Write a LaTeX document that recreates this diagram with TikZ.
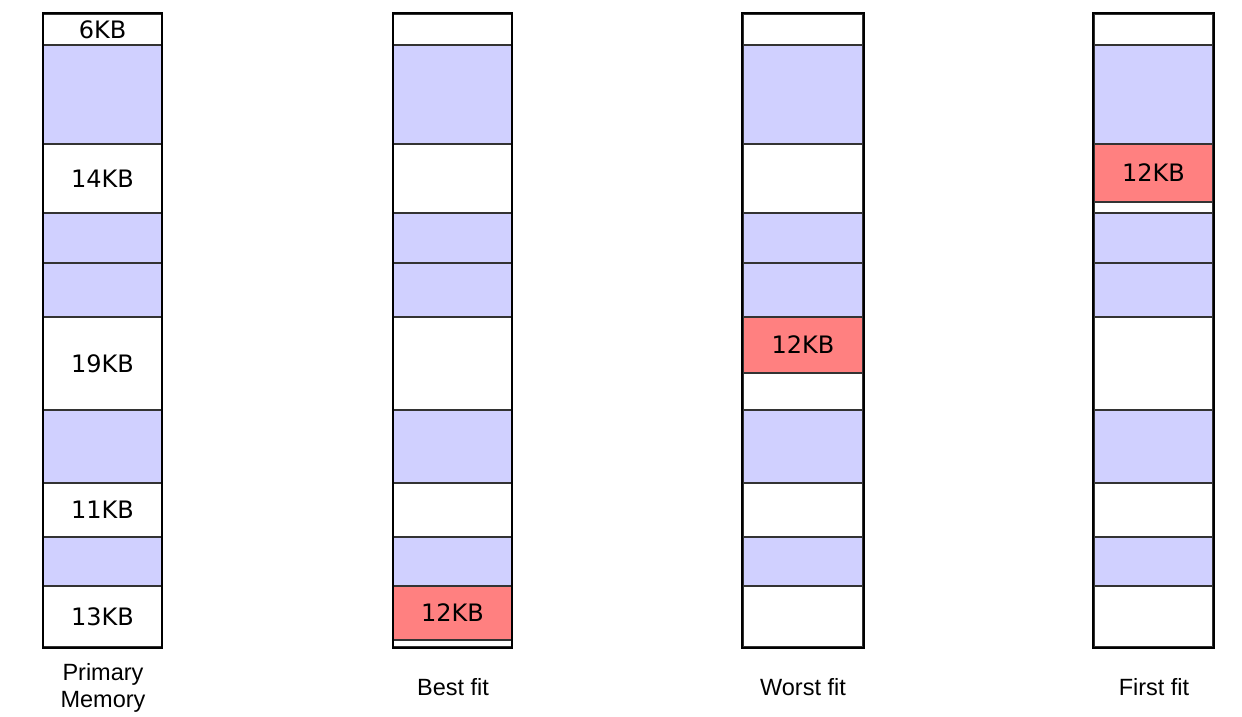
\documentclass[tikz,border=0pt]{standalone}
\usepackage{fontspec}
\setmainfont{Liberation Sans}
\newfontfamily\blkfont{DejaVu Sans}
\definecolor{memblue}{HTML}{D0D0FF}
\definecolor{memred}{HTML}{FF8080}
\newcommand\mcell[7]{%
  \pgfmathsetmacro\hh{#5-#4}\pgfmathsetmacro\ym{(#4+#5)/2}%
  \node[cell,#6,minimum width=#3pt,minimum height=\hh pt] (#1) at (#2,\ym) {#7};}
\begin{document}
\begin{tikzpicture}[x=1pt,y=-1pt,
  cell/.style={draw=black!80, line width=1.4pt, inner sep=0pt, fill=white,
    font=\blkfont\fontsize{24}{26}\selectfont},
  free/.style={fill=white},
  used/.style={fill=memblue},
  alloc/.style={fill=memred},
  outer/.style={draw=black, line width=2.2pt},
  caption/.style={font=\fontsize{23.5}{27}\selectfont, align=center}]
\useasboundingbox (0,0) rectangle (1242,716);
% Column 1: Primary memory
\def\xc{102.5}\def\w{118}
\mcell{a1}{\xc}{\w}{14}{45}{free}{6KB}
\mcell{a2}{\xc}{\w}{45}{144}{used}{}
\mcell{a3}{\xc}{\w}{144}{213}{free}{14KB}
\mcell{a4}{\xc}{\w}{213}{263}{used}{}
\mcell{a5}{\xc}{\w}{263}{317}{used}{}
\mcell{a6}{\xc}{\w}{317}{410}{free}{19KB}
\mcell{a7}{\xc}{\w}{410}{483}{used}{}
\mcell{a8}{\xc}{\w}{483}{537}{free}{11KB}
\mcell{a9}{\xc}{\w}{537}{586}{used}{}
\mcell{a10}{\xc}{\w}{586}{647}{free}{13KB}
\draw[outer] (a1.north west) rectangle (a10.south east);
% Column 2: Best fit
\def\xc{452.5}\def\w{118}
\mcell{b1}{\xc}{\w}{14}{45}{free}{}
\mcell{b2}{\xc}{\w}{45}{144}{used}{}
\mcell{b3}{\xc}{\w}{144}{213}{free}{}
\mcell{b4}{\xc}{\w}{213}{263}{used}{}
\mcell{b5}{\xc}{\w}{263}{317}{used}{}
\mcell{b6}{\xc}{\w}{317}{410}{free}{}
\mcell{b7}{\xc}{\w}{410}{483}{used}{}
\mcell{b8}{\xc}{\w}{483}{537}{free}{}
\mcell{b9}{\xc}{\w}{537}{586}{used}{}
\mcell{b10}{\xc}{\w}{586}{640}{alloc}{12KB}
\mcell{b11}{\xc}{\w}{640}{647}{free}{}
\draw[outer] (b1.north west) rectangle (b11.south east);
% Column 3: Worst fit
\def\xc{803}\def\w{120}
\mcell{c1}{\xc}{\w}{14}{45}{free}{}
\mcell{c2}{\xc}{\w}{45}{144}{used}{}
\mcell{c3}{\xc}{\w}{144}{213}{free}{}
\mcell{c4}{\xc}{\w}{213}{263}{used}{}
\mcell{c5}{\xc}{\w}{263}{317}{used}{}
\mcell{c6}{\xc}{\w}{317}{373}{alloc}{12KB}
\mcell{c7}{\xc}{\w}{373}{410}{free}{}
\mcell{c8}{\xc}{\w}{410}{483}{used}{}
\mcell{c9}{\xc}{\w}{483}{537}{free}{}
\mcell{c10}{\xc}{\w}{537}{586}{used}{}
\mcell{c11}{\xc}{\w}{586}{647}{free}{}
\draw[outer] (c1.north west) rectangle (c11.south east);
% Column 4: First fit
\def\xc{1153.5}\def\w{119}
\mcell{d1}{\xc}{\w}{14}{45}{free}{}
\mcell{d2}{\xc}{\w}{45}{144}{used}{}
\mcell{d3}{\xc}{\w}{144}{202}{alloc}{12KB}
\mcell{d4}{\xc}{\w}{202}{213}{free}{}
\mcell{d5}{\xc}{\w}{213}{263}{used}{}
\mcell{d6}{\xc}{\w}{263}{317}{used}{}
\mcell{d7}{\xc}{\w}{317}{410}{free}{}
\mcell{d8}{\xc}{\w}{410}{483}{used}{}
\mcell{d9}{\xc}{\w}{483}{537}{free}{}
\mcell{d10}{\xc}{\w}{537}{586}{used}{}
\mcell{d11}{\xc}{\w}{586}{647}{free}{}
\draw[outer] (d1.north west) rectangle (d11.south east);
% Captions
\node[caption] (la) at (103,688) {Primary\\Memory};
\node[caption] (lb) at (453,687) {Best fit};
\node[caption] (lc) at (803,687) {Worst fit};
\node[caption] (ld) at (1154,687) {First fit};
\end{tikzpicture}
\end{document}
